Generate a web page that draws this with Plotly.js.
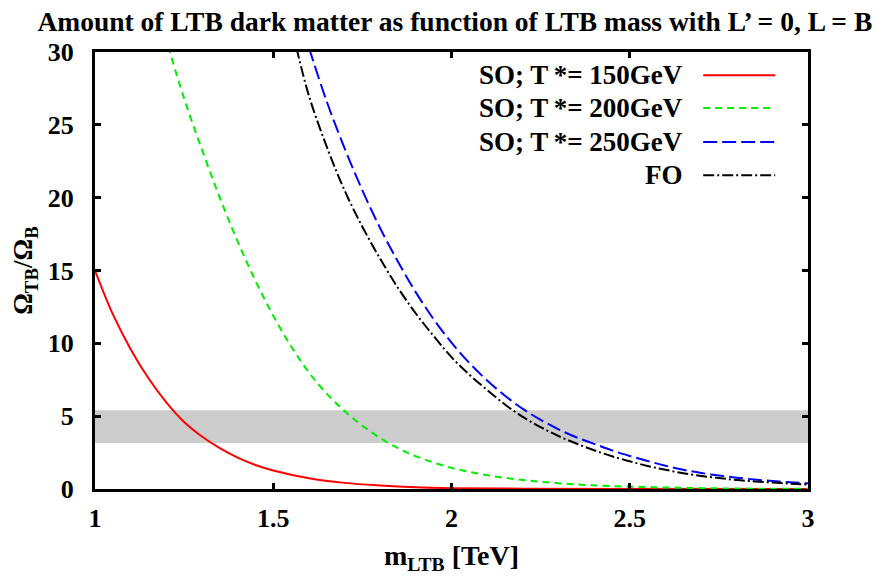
<!DOCTYPE html>
<html>
<head>
<meta charset="utf-8">
<script src="https://cdn.plot.ly/plotly-3.0.1.min.js"></script>
<style>html,body{margin:0;padding:0;background:#fff;}#chart{width:878px;height:580px;}</style>
</head>
<body>
<div id="chart"></div>
<script>
// ---- data ----
const massRed  = [1.00,1.05,1.10,1.15,1.20,1.25,1.30,1.35,1.40,1.45,1.50,1.60,1.70,1.80,1.90,2.00,2.20,2.50,3.00];
const omegaRed = [15.0,12.0,9.6,7.6,5.95,4.6,3.6,2.8,2.15,1.65,1.27,0.74,0.42,0.24,0.12,0.06,0.02,0.0,0.0];

const massGreen  = [1.205,1.25,1.30,1.35,1.40,1.45,1.50,1.55,1.60,1.65,1.70,1.75,1.80,1.85,1.90,2.00,2.10,2.20,2.30,2.40,2.50,2.60,2.70,2.80,3.00];
const omegaGreen = [30.4,26.8,23.3,20.0,17.0,14.3,11.9,9.8,8.0,6.55,5.35,4.35,3.5,2.8,2.25,1.45,0.95,0.62,0.40,0.25,0.16,0.10,0.06,0.03,0.01];

const massBlue  = [1.60,1.65,1.70,1.75,1.80,1.85,1.90,1.95,2.00,2.05,2.10,2.15,2.20,2.25,2.30,2.35,2.40,2.45,2.50,2.55,2.60,2.65,2.70,2.75,2.80,2.85,2.90,2.95,3.00];
const omegaBlue = [30.3,26.6,23.4,20.5,17.9,15.6,13.5,11.65,10.05,8.65,7.45,6.4,5.5,4.75,4.1,3.55,3.1,2.65,2.27,1.92,1.6,1.32,1.1,0.93,0.78,0.65,0.55,0.46,0.39];

const massFO  = [1.565,1.60,1.65,1.70,1.75,1.80,1.85,1.90,1.95,2.00,2.05,2.10,2.15,2.20,2.25,2.30,2.35,2.40,2.45,2.50,2.55,2.60,2.65,2.70,2.75,2.80,2.85,2.90,2.95,3.00];
const omegaFO = [30.3,27.0,23.5,20.5,18.0,15.8,13.8,12.05,10.5,9.05,7.85,6.8,5.8,4.95,4.25,3.64,3.12,2.66,2.25,1.9,1.58,1.32,1.08,0.9,0.75,0.62,0.52,0.44,0.37,0.31];

const bandX = [1, 3];
const bandLow = 3.15;
const bandHigh = 5.4;

const legendNames = ["SO; T&#8201;*= 150GeV", "SO; T&#8201;*= 200GeV", "SO; T&#8201;*= 250GeV", "FO"];
const xTicks = [1, 1.5, 2, 2.5, 3];
const xTickText = ["1", "1.5", "2", "2.5", "3"];
const yTicks = [0, 5, 10, 15, 20, 25, 30];

// ---- styles ----
const FONT = "Liberation Serif, Times New Roman, serif";
const colors = ["#ff0000", "#00ee00", "#0000ff", "#000000"];
const dashes = ["solid", "7px,5px", "14px,5px", "11px,3px,2px,3px"];

const traces = [
  {x: bandX, y: bandX.map(() => bandLow), mode: "lines", line: {width: 0, color: "#cccccc"}, showlegend: false, hoverinfo: "skip"},
  {x: bandX, y: bandX.map(() => bandHigh), mode: "lines", fill: "tonexty", fillcolor: "#cccccc", line: {width: 0, color: "#cccccc"}, showlegend: false, hoverinfo: "skip"},
  {x: massRed, y: omegaRed, mode: "lines", line: {color: colors[0], width: 2, dash: dashes[0], shape: "spline"}, name: legendNames[0], showlegend: false},
  {x: massGreen, y: omegaGreen, mode: "lines", line: {color: colors[1], width: 2, dash: dashes[1], shape: "spline"}, name: legendNames[1], showlegend: false},
  {x: massBlue, y: omegaBlue, mode: "lines", line: {color: colors[2], width: 2, dash: dashes[2], shape: "spline"}, name: legendNames[2], showlegend: false},
  {x: massFO, y: omegaFO, mode: "lines", line: {color: colors[3], width: 2, dash: dashes[3], shape: "spline"}, name: legendNames[3], showlegend: false}
];

// legend drawn gnuplot-style: right-aligned text followed by line sample
const legendRowsY = [0.947, 0.872, 0.794, 0.718];
const annotations = legendNames.map((t, i) => ({
  xref: "paper", yref: "paper", x: 0.828, y: legendRowsY[i], xanchor: "right", yanchor: "middle",
  text: t, showarrow: false, font: {family: FONT, size: 27, color: "#000", weight: "bold"}
}));
const shapes = legendNames.map((t, i) => ({
  type: "line", xref: "paper", yref: "paper", x0: 0.853, x1: 0.954, y0: legendRowsY[i], y1: legendRowsY[i],
  line: {color: colors[i], width: 2, dash: dashes[i]}
}));

const axisCommon = {
  showline: true, linecolor: "#000", linewidth: 3, mirror: "ticks",
  ticks: "inside", ticklen: 6, tickwidth: 3, tickcolor: "#000",
  showgrid: false, zeroline: false,
  tickfont: {family: FONT, size: 26, color: "#000", weight: "bold"}
};

const layout = {
  width: 878, height: 580,
  margin: {l: 95, r: 70, t: 52, b: 91},
  paper_bgcolor: "#fff", plot_bgcolor: "#fff",
  showlegend: false,
  title: {text: "Amount of LTB dark matter as function of LTB mass with L’ = 0, L = B",
          font: {family: FONT, size: 27.5, color: "#000", weight: "bold"},
          xref: "container", x: 0.518, xanchor: "center", yref: "container", y: 0.963, yanchor: "middle"},
  xaxis: Object.assign({}, axisCommon, {
    range: [1, 3], tickvals: xTicks, ticktext: xTickText, ticklabelstandoff: 4,
    title: {text: "m<sub>LTB</sub> [TeV]", font: {family: FONT, size: 28, color: "#000", weight: "bold"}, standoff: 14}
  }),
  yaxis: Object.assign({}, axisCommon, {
    range: [0, 30], tickvals: yTicks, ticklabelstandoff: 13,
    title: {text: "Ω<sub>TB</sub>/Ω<sub>B</sub>", font: {family: FONT, size: 27, color: "#000", weight: "bold"}, standoff: 8}
  }),
  annotations: annotations,
  shapes: shapes
};

Plotly.newPlot("chart", traces, layout, {displayModeBar: false, staticPlot: true});
</script>
</body>
</html>
